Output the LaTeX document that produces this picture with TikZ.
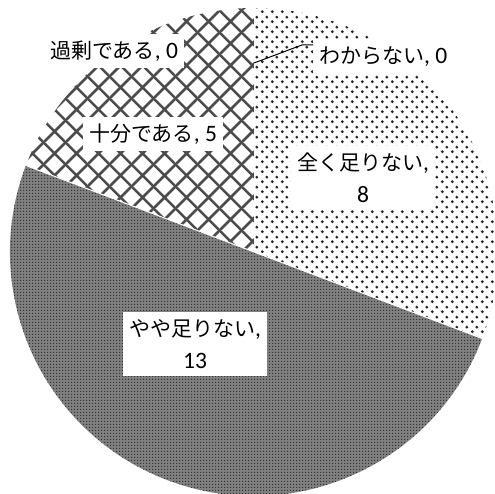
\documentclass[tikz,border=0pt]{standalone}
\usepackage{fontspec}
\setmainfont{Carlito}[Scale=1.12]
\newfontfamily\jp{Noto Sans CJK JP}
\usetikzlibrary{patterns}

\pgfdeclarepatternformonly{sparsedots}{\pgfpointorigin}{\pgfpoint{10pt}{10pt}}{\pgfpoint{10pt}{10pt}}{
	\pgfpathcircle{\pgfpoint{2.5pt}{2.5pt}}{1.7pt}
	\pgfpathcircle{\pgfpoint{7.5pt}{7.5pt}}{1.7pt}
	\pgfusepath{fill}
}
\pgfdeclarepatternformonly{densechecker}{\pgfpointorigin}{\pgfpoint{3pt}{3pt}}{\pgfpoint{3pt}{3pt}}{
	\pgfpathrectangle{\pgfpoint{0pt}{0pt}}{\pgfpoint{1.5pt}{1.5pt}}
	\pgfusepath{fill}
}
\pgfdeclarepatternformonly{diagcross}{\pgfpointorigin}{\pgfpoint{22pt}{22pt}}{\pgfpoint{22pt}{22pt}}{
	\pgfsetlinewidth{2.6pt}
	\pgfpathmoveto{\pgfpoint{-1pt}{-1pt}}\pgfpathlineto{\pgfpoint{23pt}{23pt}}
	\pgfpathmoveto{\pgfpoint{-1pt}{23pt}}\pgfpathlineto{\pgfpoint{23pt}{-1pt}}
	\pgfusepath{stroke}
}

\tikzset{
	piece/.style={draw=white, line width=1pt},
	tag/.style={fill=white, inner xsep=6pt, inner ysep=7pt, align=center, font=\fontsize{21pt}{32pt}\selectfont},
	leader/.style={draw=black, line width=1pt}
}

\begin{document}
\begin{tikzpicture}[x=1pt, y=1pt]
	\useasboundingbox (0,0) rectangle (495,494);
	\coordinate (c) at (254,242);

	% slices, clockwise from the top
	\fill[pattern=sparsedots, pattern color=black!85] (c) -- ++(90:244) arc (90:-20.77:244) -- cycle;
	\fill[black!50] (c) -- ++(-20.77:244) arc (-20.77:-200.77:244) -- cycle;
	\fill[pattern=densechecker, pattern color=black!80] (c) -- ++(-20.77:244) arc (-20.77:-200.77:244) -- cycle;
	\fill[pattern=diagcross, pattern color=black!70] (c) -- ++(159.23:244) arc (159.23:90:244) -- cycle;
		\draw[piece] (c) -- ++(90:244);
		\draw[piece] (c) -- ++(-20.77:244);
		\draw[piece] (c) -- ++(159.23:244);

	\node[tag] (lack) at (363,316) {{\jp 全く足りない},\\8};
	\node[tag] (some) at (195,150) {{\jp やや足りない},\\13};
	\node[tag] (enough) at (153,360) {{\jp 十分である}, 5};
	\node[tag] (excess) at (114,443) {{\jp 過剰である}, 0};
	\node[tag, anchor=west] (unknown) at (313,437) {{\jp わからない}, 0};

	\coordinate (tip) at (254,431);
	\coordinate (bend) at (302,449);
	\draw[leader] (tip) -- (bend) -- (unknown.west |- bend);
\end{tikzpicture}
\end{document}
